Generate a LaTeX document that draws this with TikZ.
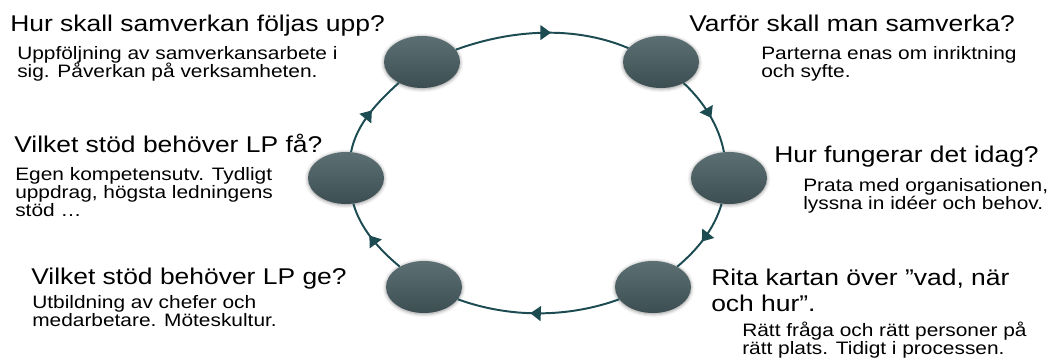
\documentclass[tikz,border=0pt]{standalone}
\usepackage{fontspec}
\setmainfont{Liberation Sans}[FakeStretch=1.16]
\usetikzlibrary{shapes.geometric,arrows.meta,decorations.markings,shadows.blur}
\definecolor{stagetop}{RGB}{92,112,116}
\definecolor{stagebottom}{RGB}{60,78,82}
\definecolor{ringcolor}{RGB}{28,76,82}

\begin{document}
\begin{tikzpicture}[
    x=0.025cm, y=0.025cm,
    stage/.style={ellipse, minimum width=1.9cm, minimum height=1.3cm, inner sep=0pt, top color=stagetop, bottom color=stagebottom, blur shadow={shadow xshift=0pt, shadow yshift=-0.6pt, shadow blur radius=2.5pt, shadow opacity=45}},
    ring/.style={line width=1.4pt, ringcolor, looseness=0.87, postaction={decorate}, decoration={markings, mark=at position 0.55 with {\arrow{Triangle[length=7.5pt,width=10.5pt]}}}},
    question/.style={anchor=base west, inner sep=0pt, align=left, font=\fontsize{16.2}{19.1}\selectfont},
    answer/.style={anchor=base west, inner sep=0pt, align=left, font=\fontsize{12.8}{13}\selectfont}
]
\useasboundingbox (0,0) rectangle (1061,360);

% Stages
\node[stage] (review) at (422,298) {};
\node[stage] (why) at (661,298) {};
\node[stage] (now) at (729,182) {};
\node[stage] (plan) at (653,73) {};
\node[stage] (give) at (424,73) {};
\node[stage] (need) at (346,182) {};

% Cycle
\draw[ring] (review) to[out=20, in=157] (why);
\draw[ring] (why) to[out=-43, in=101] (now);
\draw[ring] (now) to[out=-106, in=40] (plan);
\draw[ring] (plan) to[out=200, in=-20] (give);
\draw[ring] (give) to[out=140, in=-74] (need);
\draw[ring] (need) to[out=79, in=-138] (review);

% Texts (multi-line nodes sit on their last baseline)
\node[question] (reviewhead) at (10,328) {Hur skall samverkan följas upp?};
\node[answer] (reviewtext) at (17,282) {Uppföljning av samverkansarbete i\\sig. Påverkan på verksamheten.};
\node[question] (whyhead) at (689,328) {Varför skall man samverka?};
\node[answer] (whytext) at (761,282) {Parterna enas om inriktning\\och syfte.};
\node[question] (nowhead) at (774,197) {Hur fungerar det idag?};
\node[answer] (nowtext) at (803,150) {Prata med organisationen,\\lyssna in idéer och behov.};
\node[question] (planhead) at (711,48) {Rita kartan över ”vad, när\\och hur”.};
\node[answer] (plantext) at (742,5) {Rätt fråga och rätt personer på\\rätt plats. Tidigt i processen.};
\node[question] (givehead) at (31,75) {Vilket stöd behöver LP ge?};
\node[answer] (givetext) at (32,33) {Utbildning av chefer och\\medarbetare. Möteskultur.};
\node[question] (needhead) at (14,207) {Vilket stöd behöver LP få?};
\node[answer] (needtext) at (15,143) {Egen kompetensutv. Tydligt\\uppdrag, högsta ledningens\\stöd …};

\end{tikzpicture}
\end{document}
